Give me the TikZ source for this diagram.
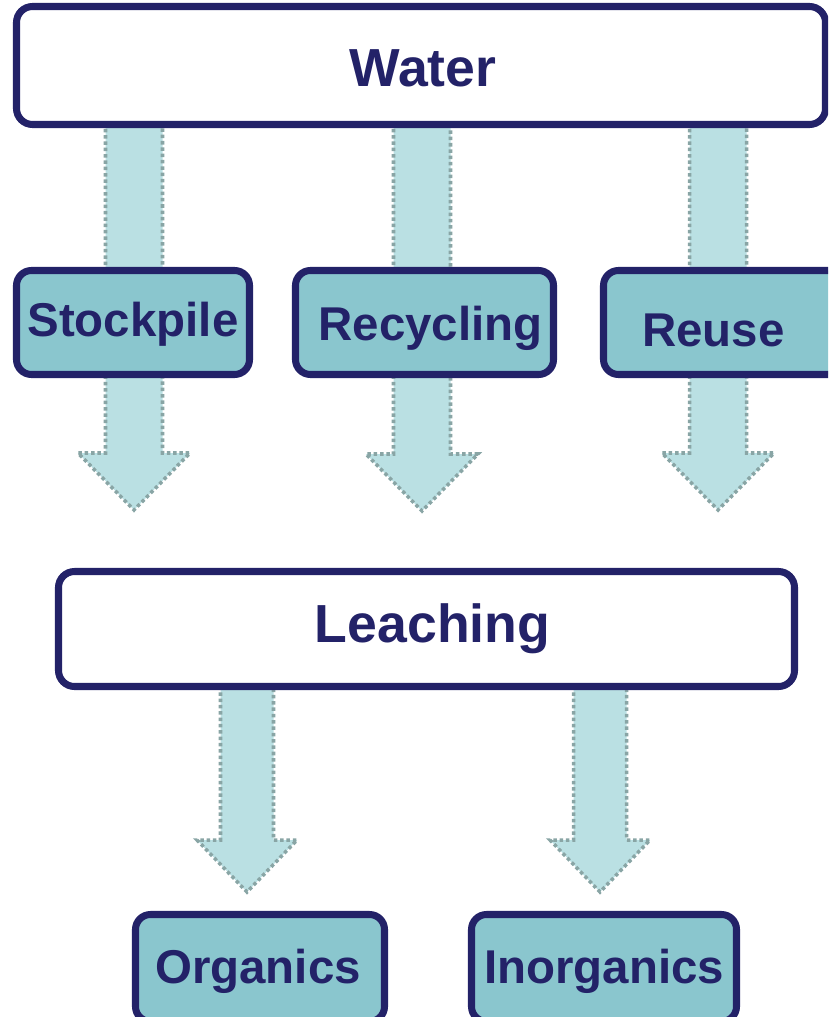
\documentclass[tikz,border=0pt]{standalone}
\usepackage{fontspec}
\setmainfont{Liberation Sans}
\usetikzlibrary{calc, backgrounds}

\definecolor{boxline}{HTML}{232268}
\definecolor{boxfill}{HTML}{8AC6CE}
\definecolor{arrowfill}{HTML}{BAE0E3}
\definecolor{arrowdot}{HTML}{89A5A5}

\newcommand{\pxu}{0.02cm}
\newdimen\pxlen \pxlen=0.02cm
\newcommand{\bigfont}{\fontsize{30.5}{35}\selectfont\bfseries}
\newcommand{\smallfont}{\fontsize{27}{31}\selectfont\bfseries}
% move a label off the centre of its box: #1 right, #2 down (px)
\newcommand{\nudge}[3]{\hspace*{#1\pxlen}\hspace*{#1\pxlen}\raisebox{-#2\pxlen}[\height][\depth]{#3}}

\tikzset{
  bigbox/.style={draw=boxline, line width=4pt, fill=white, rounded corners=0.32cm,
    inner sep=0pt, text=boxline, font=\bigfont},
  smallbox/.style={bigbox, fill=boxfill, rounded corners=0.3cm, font=\smallfont},
  flowarrow/.style={fill=arrowfill, draw=arrowdot, line width=2pt,
    dash pattern=on 2pt off 1.6pt}
}

% #1 source node, #2 tip, #3 half shaft, #4 half head, #5 head length
\newcommand{\flowarrow}[5]{%
  \path[flowarrow] ($(#1.center -| #2)+(-#3,0)$) -- ($(#2)+(-#3,-#5)$) -- ++(#3-#4,0)
    -- (#2) -- ++(#4,-#5) -- ++(#3-#4,0) -- ($(#1.center -| #2)+(#3,0)$) -- cycle;}

\begin{document}
\begin{tikzpicture}[x=0.02cm, y=-0.02cm]
    \useasboundingbox (0,0) rectangle (828,1017);
    \clip (0,0) rectangle (828,1017);

    \node[bigbox, minimum width=809*\pxu, minimum height=118*\pxu] (water) at (421,65.5) {\nudge{2}{3}{Water}};

    \node[smallbox, minimum width=233*\pxu, minimum height=104*\pxu] (stockpile) at (133,322.5) {\nudge{0}{2}{Stockpile}};
    \node[smallbox, minimum width=258*\pxu, minimum height=104*\pxu] (recycling) at (424.5,322.5) {\nudge{6}{6}{Recycling}};
    \node[smallbox, minimum width=240*\pxu, minimum height=104*\pxu] (reuse) at (723.5,322.5) {\nudge{-10}{8}{Reuse}};

    \node[bigbox, minimum width=736*\pxu, minimum height=115*\pxu] (leaching) at (426.5,629) {\nudge{6}{0}{Leaching}};

    \node[smallbox, minimum width=249*\pxu, minimum height=107*\pxu] (organics) at (260,968) {\nudge{-2}{3}{Organics}};
    \node[smallbox, minimum width=265*\pxu, minimum height=107*\pxu] (inorganics) at (604,968) {\nudge{0}{3}{Inorganics}};

    \coordinate (tip1) at (134,510);
    \coordinate (tip2) at (422,511);
    \coordinate (tip3) at (718,510);
    \coordinate (tip4) at (247,892);
    \coordinate (tip5) at (600,892);

    \begin{scope}[on background layer]
      \flowarrow{water}{tip1}{28.5}{56}{57}
      \flowarrow{water}{tip2}{28.5}{56}{57}
      \flowarrow{water}{tip3}{28.5}{56}{57}
      \flowarrow{leaching}{tip4}{26.5}{50}{52}
      \flowarrow{leaching}{tip5}{26.5}{50}{52}
    \end{scope}
\end{tikzpicture}
\end{document}
